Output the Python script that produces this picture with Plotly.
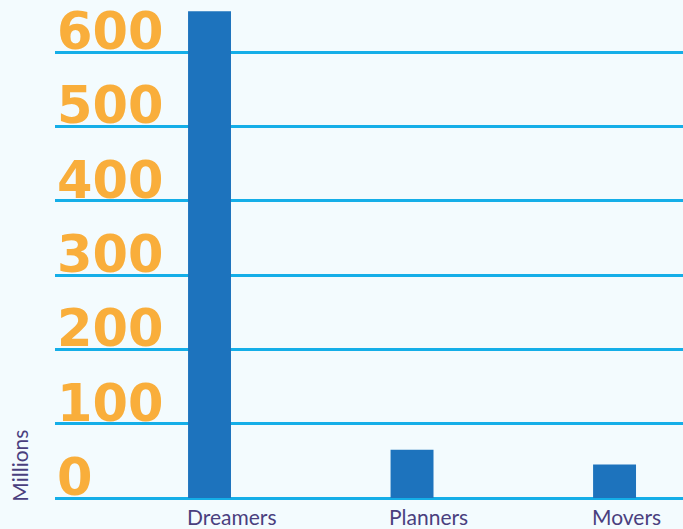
import plotly.graph_objects as go

categories = ["Dreamers", "Planners", "Movers"]
values = [655, 65, 45]
tick_vals = [0, 100, 200, 300, 400, 500, 600]
tick_text = ["0", "100", "200", "300", "400", "500", "600"]

fig = go.Figure()
fig.add_trace(go.Bar(
    x=categories, y=values, width=0.212,
    marker=dict(color="#1d73bd", line=dict(width=0)),
))

annotations = []
for v, t in zip(tick_vals, tick_text):
    annotations.append(dict(
        text=t, xref="paper", yref="y", x=0, y=v, xanchor="left", yanchor="bottom",
        xshift=0, yshift=-11, showarrow=False,
        font=dict(family="DejaVu Sans", size=51, color="#f9ae3b", weight="bold"),
    ))
for c in categories:
    annotations.append(dict(
        text=c, xref="x", yref="paper", x=c, y=0, xanchor="left", yanchor="top",
        xshift=-25, yshift=-4, showarrow=False,
        font=dict(family="Lato", size=21, color="#4a3f7e"),
    ))
annotations.append(dict(
    text="Millions", textangle=-90, xref="paper", yref="paper",
    x=-0.0557, y=0.065, xanchor="center", yanchor="middle", showarrow=False,
    font=dict(family="Lato", size=21, color="#4a3f7e"),
))

fig.update_layout(
    width=683, height=529,
    margin=dict(l=55, r=0, t=0, b=31),
    paper_bgcolor="#f3fbfe", plot_bgcolor="#f3fbfe",
    showlegend=False,
    xaxis=dict(
        range=[-0.763, 2.338], showgrid=False, zeroline=False, showline=False,
        ticks="", showticklabels=False,
    ),
    yaxis=dict(
        range=[0, 670], tickvals=tick_vals,
        showgrid=True, gridcolor="#14aee8", gridwidth=2.5,
        zeroline=True, zerolinecolor="#14aee8", zerolinewidth=2.5,
        showline=False, ticks="", showticklabels=False,
    ),
    annotations=annotations,
)

fig.write_html("out.html")
